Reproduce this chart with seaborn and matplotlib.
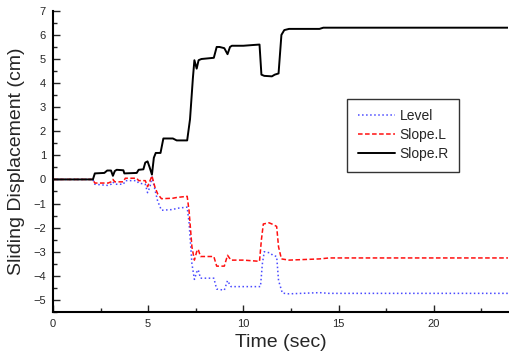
import numpy as np
import pandas as pd
import matplotlib
matplotlib.use('Agg')
import matplotlib.pyplot as plt
from matplotlib.ticker import MultipleLocator
import seaborn as sns

sns.set_style('ticks')
plt.rcParams['font.family'] = ['Liberation Sans', 'DejaVu Sans']

# Slope.R (black solid)
t_right = [0, 2.1, 2.2, 2.7, 2.85, 3.05, 3.15, 3.25, 3.35, 3.7, 3.75, 4.4, 4.5, 4.75, 4.85,
           4.97, 5.08, 5.2, 5.3, 5.4, 5.65, 5.8, 6.3, 6.5, 7.05, 7.2, 7.35, 7.43, 7.55, 7.65,
           7.8, 8.45, 8.6, 8.75, 9.0, 9.17, 9.3, 9.4, 10.0, 10.5, 10.85, 10.95, 11.1, 11.5,
           11.65, 11.85, 12.0, 12.15, 12.4, 14.0, 14.2, 23.9]
y_right = [0, 0, 0.25, 0.27, 0.37, 0.37, 0.15, 0.35, 0.4, 0.38, 0.25, 0.27, 0.4, 0.42, 0.7,
           0.75, 0.5, 0.2, 0.9, 1.1, 1.1, 1.7, 1.7, 1.62, 1.62, 2.5, 4.2, 4.95, 4.6, 4.95,
           5.0, 5.05, 5.5, 5.5, 5.45, 5.2, 5.5, 5.55, 5.55, 5.58, 5.6, 4.35, 4.3, 4.28,
           4.35, 4.4, 6.0, 6.2, 6.25, 6.25, 6.3, 6.3]

# Slope.L (red dashed)
t_left = [0, 2.1, 2.2, 2.9, 3.05, 3.15, 3.25, 3.7, 3.8, 4.4, 4.5, 4.85, 4.97, 5.1, 5.2,
          5.35, 5.5, 5.7, 6.3, 6.5, 7.05, 7.15, 7.3, 7.43, 7.55, 7.63, 7.75, 8.45, 8.6, 9.0,
          9.17, 9.35, 10.0, 10.85, 10.95, 11.05, 11.35, 11.5, 11.75, 11.85, 12.0, 12.4,
          14.0, 14.5, 23.9]
y_left = [0, 0, -0.15, -0.15, -0.1, 0.0, -0.1, -0.1, 0.05, 0.05, -0.05, -0.05, -0.3, -0.05,
          0.15, -0.3, -0.6, -0.8, -0.78, -0.75, -0.7, -1.3, -2.8, -3.35, -3.0, -2.9, -3.2,
          -3.2, -3.6, -3.6, -3.15, -3.35, -3.35, -3.4, -2.5, -1.85, -1.8, -1.85, -1.95,
          -2.8, -3.3, -3.35, -3.3, -3.26, -3.26]

# Level (blue dotted)
t_level = [0, 2.1, 2.2, 2.9, 3.05, 3.15, 3.25, 3.7, 3.8, 4.4, 4.5, 4.85, 4.97, 5.1, 5.2,
           5.35, 5.5, 5.7, 6.3, 6.5, 7.05, 7.15, 7.3, 7.43, 7.55, 7.63, 7.75, 8.45, 8.6, 9.0,
           9.17, 9.35, 10.0, 10.9, 11.0, 11.1, 11.4, 11.55, 11.75, 11.85, 12.05, 12.4,
           14.0, 14.5, 23.9]
y_level = [0, 0, -0.2, -0.25, -0.2, -0.1, -0.2, -0.2, -0.05, -0.05, -0.15, -0.2, -0.55, -0.3,
           0.1, -0.4, -0.9, -1.28, -1.25, -1.2, -1.15, -1.8, -3.5, -4.15, -3.85, -3.75, -4.1,
           -4.1, -4.55, -4.6, -4.2, -4.45, -4.45, -4.45, -3.5, -3.0, -3.05, -3.15, -3.2,
           -4.2, -4.72, -4.75, -4.7, -4.73, -4.73]

fig = plt.figure(figsize=(5.09, 3.61), dpi=100)
ax = fig.add_axes([0.104, 0.136, 0.894, 0.834])

sns.lineplot(x=t_level, y=y_level, ax=ax, color='#4a4aff', linestyle=':', linewidth=1.1,
             sort=False, label='Level')
sns.lineplot(x=t_left, y=y_left, ax=ax, color='#ff1010', linewidth=1.1,
             sort=False, label='Slope.L')
ax.lines[-1].set_dashes((3, 1.6))
sns.lineplot(x=t_right, y=y_right, ax=ax, color='black', linewidth=1.4,
             sort=False, label='Slope.R')

ax.set_xlim(0, 23.9)
ax.set_ylim(-5.5, 7)
ax.xaxis.set_major_locator(MultipleLocator(5))
ax.xaxis.set_minor_locator(MultipleLocator(2.5))
ax.yaxis.set_major_locator(MultipleLocator(1))
ax.yaxis.set_minor_locator(MultipleLocator(0.5))
ax.tick_params(which='major', direction='in', length=5, width=1, labelsize=8, pad=5)
ax.tick_params(which='minor', direction='in', length=3, width=1)

for s in ['top', 'right']:
    ax.spines[s].set_visible(False)
for s in ['left', 'bottom']:
    ax.spines[s].set_linewidth(1.5)
    ax.spines[s].set_color('black')

ax.set_xlabel('Time (sec)', fontsize=14, labelpad=4)
ax.set_ylabel('Sliding Displacement (cm)', fontsize=14, labelpad=6)

leg = ax.legend(loc='upper left', bbox_to_anchor=(0.647, 0.708), borderaxespad=0,
                fontsize=10, handlelength=2.7, fancybox=False, framealpha=1,
                edgecolor='#333333', borderpad=0.75, labelspacing=0.36, handletextpad=0.3)
leg.get_frame().set_linewidth(1.0)
leg.get_lines()[1].set_dashes((3, 1.6))

fig.savefig('out.png', dpi=100)
